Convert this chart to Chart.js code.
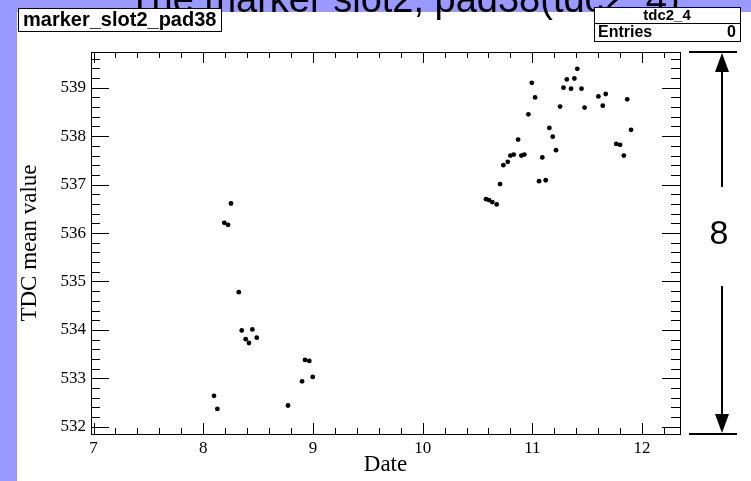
<!DOCTYPE html>
<html>
<head>
<meta charset="utf-8">
<script src="https://cdn.jsdelivr.net/npm/chart.js@4.4.0/dist/chart.umd.min.js"></script>
<style>
    html, body { margin: 0; padding: 0; background: #ffffff; }
    #wrap { width: 751px; height: 481px; }
</style>
</head>
<body>
<div id="wrap"><canvas id="canvas-tdc" width="751" height="481"></canvas></div>
<script>
// Data
const dateValues = [
    8.098, 8.129, 8.192, 8.226, 8.253, 8.324, 8.351, 8.387, 8.417, 8.448, 8.488,
    8.773, 8.901, 8.928, 8.967, 8.998,
    10.578, 10.605, 10.635, 10.675, 10.706, 10.736, 10.776, 10.800, 10.830, 10.870,
    10.900, 10.927, 10.964, 10.995, 11.025, 11.061, 11.091, 11.122, 11.155, 11.186,
    11.216, 11.253, 11.284, 11.314, 11.353, 11.383, 11.410, 11.448, 11.476, 11.602,
    11.642, 11.669, 11.765, 11.800, 11.834, 11.865, 11.900
];
const tdcMeans = [
    532.64, 532.37, 536.21, 536.17, 536.61, 534.78, 533.99, 533.81, 533.73, 534.01, 533.84,
    532.44, 532.94, 533.38, 533.36, 533.03,
    536.70, 536.68, 536.64, 536.59, 537.01, 537.40, 537.47, 537.60, 537.62, 537.93,
    537.60, 537.62, 538.45, 539.10, 538.80, 537.07, 537.56, 537.09, 538.17, 537.99,
    537.71, 538.61, 539.00, 539.17, 538.98, 539.19, 539.39, 538.98, 538.59, 538.82,
    538.63, 538.87, 537.84, 537.82, 537.60, 538.76, 538.13
];
const xTickValues = [7, 8, 9, 10, 11, 12];
const yTickValues = [532, 533, 534, 535, 536, 537, 538, 539];

const canvasTdc = document.getElementById('canvas-tdc');
const padColor = '#9999ff';
const sansFont = '"Liberation Sans", Arial, sans-serif';
const serifFont = '"Liberation Serif", "Times New Roman", serif';

const points = dateValues.map((d, i) => ({ x: d, y: tdcMeans[i] }));

// frame, inward ticks, pad decorations
const rootPad = {
    id: 'rootPad',
    beforeDraw(chart) {
        const ctx = chart.ctx;
        ctx.save();
        ctx.fillStyle = '#ffffff';
        ctx.fillRect(0, 0, chart.width, chart.height);
        ctx.fillStyle = padColor;
        ctx.fillRect(0, 0, 17, chart.height);
        ctx.fillRect(0, 0, chart.width, 12);
        ctx.restore();
    },
    afterDatasetsDraw(chart) {
        const ctx = chart.ctx;
        const a = chart.chartArea;
        const xs = chart.scales.x;
        const ys = chart.scales.y;
        ctx.save();
        ctx.strokeStyle = '#000';
        ctx.lineWidth = 1;
        ctx.strokeRect(Math.round(a.left) + 0.5, Math.round(a.top) + 0.5,
            Math.round(a.right - a.left), Math.round(a.bottom - a.top));

        ctx.beginPath();
        for (let k = Math.ceil(xs.min * 5); k <= Math.floor(xs.max * 5); k++) {
            const px = Math.round(xs.getPixelForValue(k / 5)) + 0.5;
            const len = (k % 5 === 0) ? 11 : 6;
            ctx.moveTo(px, a.bottom); ctx.lineTo(px, a.bottom - len);
            ctx.moveTo(px, a.top); ctx.lineTo(px, a.top + len);
        }
        for (let k = Math.ceil(ys.min * 5); k <= Math.floor(ys.max * 5); k++) {
            const py = Math.round(ys.getPixelForValue(k / 5)) + 0.5;
            const len = (k % 5 === 0) ? 18 : 9;
            ctx.moveTo(a.left, py); ctx.lineTo(a.left + len, py);
            ctx.moveTo(a.right, py); ctx.lineTo(a.right - len, py);
        }
        ctx.stroke();
        ctx.restore();
    },
    afterDraw(chart) {
        const ctx = chart.ctx;
        ctx.save();

        // pad title, cut by the top edge
        ctx.fillStyle = '#000';
        ctx.font = '38px ' + sansFont;
        ctx.textAlign = 'center';
        ctx.textBaseline = 'alphabetic';
        ctx.fillText('The marker slot2, pad38(tdc2_4)', 404, 12);

        // name label box
        ctx.fillStyle = '#fff';
        ctx.fillRect(18, 8, 203, 23);
        ctx.strokeStyle = '#000';
        ctx.lineWidth = 1;
        ctx.strokeRect(18.5, 8.5, 203, 23);
        ctx.fillStyle = '#000';
        ctx.font = 'bold 20px ' + sansFont;
        ctx.textBaseline = 'middle';
        ctx.textAlign = 'left';
        ctx.fillText('marker_slot2_pad38', 23, 20.5);

        // stats box
        ctx.fillStyle = '#fff';
        ctx.fillRect(594, 7, 146, 34);
        ctx.strokeRect(594.5, 7.5, 146, 34);
        ctx.beginPath();
        ctx.moveTo(594, 23.5); ctx.lineTo(740, 23.5);
        ctx.stroke();
        ctx.fillStyle = '#000';
        ctx.font = 'bold 15px ' + sansFont;
        ctx.textAlign = 'center';
        ctx.fillText('tdc2_4', 667, 15.5);
        ctx.font = 'bold 16px ' + sansFont;
        ctx.textAlign = 'left';
        ctx.fillText('Entries', 598, 33);
        ctx.textAlign = 'right';
        ctx.fillText('0', 736, 33);

        // dimension arrow with label
        const ax = 722;
        const top = chart.chartArea.top;
        const bottom = chart.chartArea.bottom;
        ctx.lineWidth = 2;
        ctx.beginPath();
        ctx.moveTo(689, top); ctx.lineTo(737, top);
        ctx.moveTo(689, bottom); ctx.lineTo(737, bottom);
        ctx.moveTo(ax, top + 18); ctx.lineTo(ax, 187);
        ctx.moveTo(ax, 286); ctx.lineTo(ax, bottom - 18);
        ctx.stroke();
        ctx.beginPath();
        ctx.moveTo(ax, top + 1); ctx.lineTo(ax - 7, top + 20); ctx.lineTo(ax + 7, top + 20); ctx.closePath();
        ctx.moveTo(ax, bottom - 1); ctx.lineTo(ax - 7, bottom - 20); ctx.lineTo(ax + 7, bottom - 20); ctx.closePath();
        ctx.fill();
        ctx.font = '34px ' + sansFont;
        ctx.textAlign = 'center';
        ctx.textBaseline = 'middle';
        ctx.fillText('8', 719, 235);
        ctx.restore();
    }
};

const chartConfig = {
    type: 'scatter',
    data: {
        datasets: [
            {
                data: points,
                backgroundColor: '#000',
                borderWidth: 0,
                pointRadius: 2.4,
                pointHoverRadius: 2.4,
            }
        ]
    },
    options: {
        responsive: false,
        animation: false,
        devicePixelRatio: 1,
        layout: {
            padding: { left: 0, right: 71, top: 52, bottom: 0 }
        },
        scales: {
            x: {
                type: 'linear',
                min: 6.977,
                max: 12.346,
                grid: { display: false, drawTicks: false },
                border: { display: false },
                afterBuildTicks: (scale) => {
                    scale.ticks = xTickValues.map(v => ({ value: v }));
                },
                afterFit: (scale) => { scale.height = 47; },
                ticks: {
                    color: '#000',
                    padding: 4,
                    maxRotation: 0,
                    font: { family: serifFont, size: 17 },
                    callback: (v) => String(v),
                },
                title: {
                    display: true,
                    text: 'Date',
                    color: '#000',
                    padding: { top: 0, bottom: 2 },
                    font: { family: serifFont, size: 23 },
                },
            },
            y: {
                type: 'linear',
                min: 531.852,
                max: 539.737,
                grid: { display: false, drawTicks: false },
                border: { display: false },
                afterBuildTicks: (scale) => {
                    scale.ticks = yTickValues.map(v => ({ value: v }));
                },
                afterFit: (scale) => { scale.width = 91; },
                ticks: {
                    color: '#000',
                    padding: 5,
                    font: { family: serifFont, size: 17 },
                    callback: (v) => String(v),
                },
                title: {
                    display: true,
                    text: 'TDC mean value',
                    color: '#000',
                    padding: { top: 16, bottom: 0 },
                    font: { family: serifFont, size: 23 },
                },
            }
        },
        plugins: {
            legend: { display: false },
            tooltip: { enabled: false },
        }
    },
    plugins: [rootPad],
};

const tdcChart = new Chart(canvasTdc.getContext('2d'), chartConfig);
</script>
</body>
</html>
